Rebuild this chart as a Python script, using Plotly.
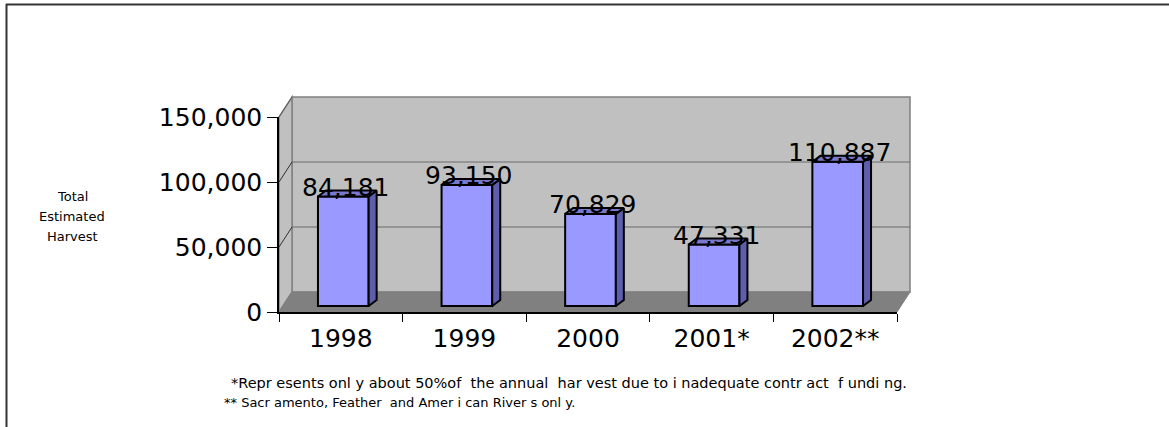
import plotly.graph_objects as go

# ---- data ----
years = ["1998", "1999", "2000", "2001*", "2002**"]
harvest = [84181, 93150, 70829, 47331, 110887]
y_ticks = [0, 50000, 100000, 150000]
y_title_lines = ["Total", "Estimated", "Harvest"]
footnotes = [
    "*Repr esents onl y about 50%of  the annual  har vest due to i nadequate contr act  f undi ng.",
    "** Sacr amento, Feather  and Amer i can River s onl y.",
]

# ---- geometry (pixels of the 1169x427 page) ----
W_PAGE, H_PAGE = 1169, 427
PL, PR, PT, PB = 279, 897, 117, 312
PW, PH = PR - PL, PB - PT
YMAX = 150000
DX, DY = 13, 20          # depth of the 3-D box (px)
BDX, BDY = 2.5, 6        # bar plane offset from front (px)
SDX, SDY = 8, 6          # bar depth (px)
BAR_W = 0.41

def px(x):
    return (x - PL) / PW

def py(y):
    return (PB - y) / PH

ncat = len(years)
cat_px = PW / ncat
val_px = PH / YMAX

FONT = "DejaVu Sans"
WALL = "#C0C0C0"
FLOOR = "#808080"
EDGE = "#808080"
GRID = "#6A6A6A"

shapes = []

def poly(points, fill, line_color, width=1):
    d = "M " + " L ".join(f"{px(a):.5f},{py(b):.5f}" for a, b in points) + " Z"
    shapes.append(dict(type="path", xref="paper", yref="paper", path=d,
                       fillcolor=fill, line=dict(color=line_color, width=width),
                       layer="below"))

def seg(x0, y0, x1, y1, color, width=1):
    shapes.append(dict(type="line", xref="paper", yref="paper",
                       x0=px(x0), y0=py(y0), x1=px(x1), y1=py(y1),
                       line=dict(color=color, width=width), layer="below"))

top_front = PB - YMAX * val_px
# back wall
poly([(PL + DX, top_front - DY), (PR + DX, top_front - DY),
      (PR + DX, PB - DY), (PL + DX, PB - DY)], WALL, EDGE, 1.5)
# left side wall
poly([(PL, PB), (PL, top_front), (PL + DX, top_front - DY), (PL + DX, PB - DY)],
     WALL, EDGE, 1.5)
# floor
poly([(PL, PB), (PR, PB), (PR + DX, PB - DY), (PL + DX, PB - DY)], FLOOR, EDGE, 1)
# gridlines on back wall and side wall
for v in y_ticks[1:-1]:
    yf = PB - v * val_px
    seg(PL + DX, yf - DY, PR + DX, yf - DY, GRID, 1.2)
    seg(PL, yf, PL + DX, yf - DY, "#303030", 1)
seg(PL, top_front, PL + DX, top_front - DY, "#606060", 1)

# page border (left and top)
shapes.append(dict(type="line", xref="paper", yref="paper",
                   x0=px(6), y0=py(4.5), x1=px(W_PAGE + 5), y1=py(4.5),
                   line=dict(color="#333333", width=2)))
shapes.append(dict(type="line", xref="paper", yref="paper",
                   x0=px(6.5), y0=py(4), x1=px(6.5), y1=py(H_PAGE + 5),
                   line=dict(color="#333333", width=2)))

fig = go.Figure()

# invisible trace to set up the category axis (front)
fig.add_trace(go.Scatter(x=years, y=[None] * ncat, mode="markers",
                         showlegend=False, hoverinfo="skip"))

# bars on an overlay axis, shifted into the 3-D plane
xs = list(range(ncat))
off_x = BDX / cat_px
off_y = BDY / val_px
dxu = SDX / cat_px
dyu = SDY / val_px
hw = BAR_W / 2

for i, v in zip(xs, harvest):
    # side face
    fig.add_trace(go.Scatter(
        x=[i + hw, i + hw + dxu, i + hw + dxu, i + hw, i + hw],
        y=[0, dyu, v + dyu, v, 0],
        xaxis="x2", yaxis="y2", mode="lines", fill="toself",
        fillcolor="#5E5EAE", line=dict(color="black", width=2),
        showlegend=False, hoverinfo="skip"))
    # top face
    fig.add_trace(go.Scatter(
        x=[i - hw, i + hw, i + hw + dxu, i - hw + dxu, i - hw],
        y=[v, v, v + dyu, v + dyu, v],
        xaxis="x2", yaxis="y2", mode="lines", fill="toself",
        fillcolor="#7878CC", line=dict(color="black", width=2),
        showlegend=False, hoverinfo="skip"))

fig.add_trace(go.Bar(x=xs, y=harvest, width=BAR_W, xaxis="x2", yaxis="y2",
                     marker=dict(color="#9999FF", line=dict(color="black", width=2)),
                     showlegend=False, hoverinfo="skip"))

annotations = []
for i, v in zip(xs, harvest):
    annotations.append(dict(x=i, y=v, xref="x2", yref="y2", text=f"{v:,}",
                            showarrow=False, xanchor="center", yanchor="middle",
                            xshift=2, yshift=9,
                            font=dict(family=FONT, size=25, color="black")))

for k, t in enumerate(y_title_lines):
    annotations.append(dict(x=px(72), y=py(196 + 20 * k), xref="paper", yref="paper",
                            text=t, showarrow=False, xanchor="center", yanchor="middle",
                            font=dict(family=FONT, size=13, color="black")))

annotations.append(dict(x=px(229), y=py(383), xref="paper", yref="paper",
                        text=footnotes[0], showarrow=False, xanchor="left", yanchor="middle",
                        font=dict(family=FONT, size=14.5, color="black")))
annotations.append(dict(x=px(222), y=py(402), xref="paper", yref="paper",
                        text=footnotes[1], showarrow=False, xanchor="left", yanchor="middle",
                        font=dict(family=FONT, size=13, color="black")))

fig.update_layout(
    width=W_PAGE, height=H_PAGE,
    margin=dict(l=PL, r=W_PAGE - PR, t=PT, b=H_PAGE - PB, pad=0),
    paper_bgcolor="white", plot_bgcolor="rgba(0,0,0,0)",
    showlegend=False,
    shapes=shapes, annotations=annotations,
    xaxis=dict(type="category", categoryorder="array", categoryarray=years,
               range=[-0.5, ncat - 0.5], showgrid=False, zeroline=False,
               showline=True, linecolor="black", linewidth=1.5,
               ticks="outside", tickson="boundaries", ticklen=8, tickcolor="black",
               tickwidth=1, ticklabelstandoff=3,
               tickfont=dict(family=FONT, size=25, color="black"),
               fixedrange=True),
    yaxis=dict(range=[0, YMAX], tickvals=y_ticks, tickformat=",",
               showgrid=False, zeroline=False, showline=True, linecolor="black",
               linewidth=1.5, ticks="outside", ticklen=10, tickcolor="black",
               tickwidth=1, tickfont=dict(family=FONT, size=25, color="black"),
               fixedrange=True),
    xaxis2=dict(overlaying="x", type="linear",
                range=[-0.5 - off_x, ncat - 0.5 - off_x], visible=False,
                fixedrange=True),
    yaxis2=dict(overlaying="y", range=[-off_y, YMAX - off_y], visible=False,
                fixedrange=True),
)

fig.write_html("out.html", config={"displayModeBar": False},
               post_script="document.body.style.margin='0';document.body.style.overflow='hidden';")
